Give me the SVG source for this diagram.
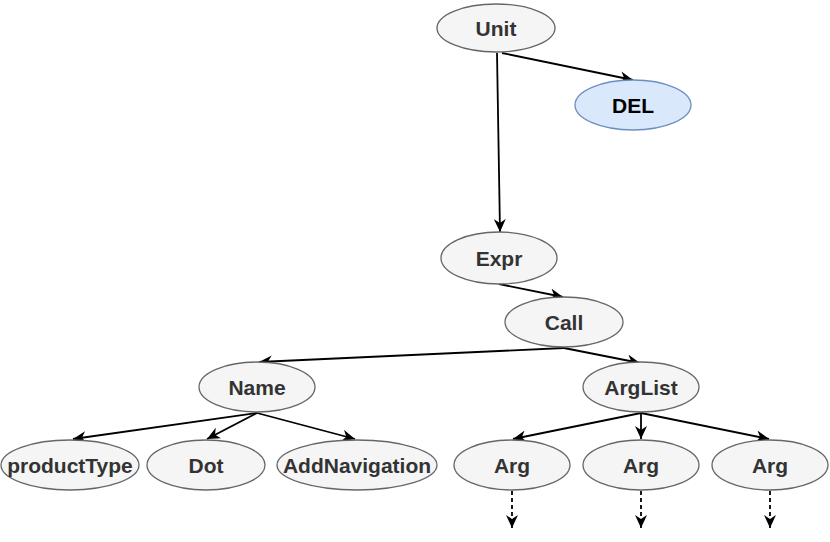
<svg xmlns="http://www.w3.org/2000/svg" width="830" height="542" viewBox="0 0 830 542">
<style>
.n ellipse{fill:#f5f5f5;stroke:#666666;stroke-width:1.3}
.n text{font-family:"Liberation Sans",Arial,sans-serif;font-weight:bold;font-size:21px;fill:#333333;text-anchor:middle}
#del ellipse{fill:#dae8fc;stroke:#6c8ebf}
#del text{fill:#000000}
.e line{stroke:#000000;stroke-width:1.8;fill:none}
.e .d{stroke-dasharray:4 3}
</style>
<defs>
<marker id="a" markerUnits="userSpaceOnUse" markerWidth="14" markerHeight="12" refX="13" refY="6" orient="auto">
<path d="M0,0 L13,6 L0,12 L4,6 Z" fill="#000000"/>
</marker>
</defs>
<g class="e" id="edges">
<line x1="502" y1="53" x2="633" y2="80" marker-end="url(#a)"/>
<line x1="497" y1="53" x2="500" y2="232" marker-end="url(#a)"/>
<line x1="499" y1="284" x2="563" y2="297" marker-end="url(#a)"/>
<line x1="564" y1="348" x2="259" y2="362" marker-end="url(#a)"/>
<line x1="564" y1="348" x2="640" y2="363" marker-end="url(#a)"/>
<line x1="257" y1="413" x2="73" y2="439" marker-end="url(#a)"/>
<line x1="257" y1="413" x2="207" y2="439" marker-end="url(#a)"/>
<line x1="257" y1="413" x2="355" y2="439" marker-end="url(#a)"/>
<line x1="641" y1="413" x2="513" y2="439" marker-end="url(#a)"/>
<line x1="641" y1="413" x2="641" y2="439" marker-end="url(#a)"/>
<line x1="641" y1="413" x2="769" y2="439" marker-end="url(#a)"/>
<line class="d" x1="512" y1="491" x2="512" y2="528" marker-end="url(#a)"/>
<line class="d" x1="641" y1="491" x2="641" y2="528" marker-end="url(#a)"/>
<line class="d" x1="770" y1="491" x2="770" y2="528" marker-end="url(#a)"/>
</g>
<g class="n" id="unit"><ellipse cx="496" cy="28" rx="59" ry="24"/><text x="496" y="35.5">Unit</text></g>
<g class="n" id="del"><ellipse cx="633" cy="105" rx="58" ry="25"/><text x="633" y="112.5">DEL</text></g>
<g class="n" id="expr"><ellipse cx="499" cy="258" rx="58" ry="26"/><text x="499" y="265.5">Expr</text></g>
<g class="n" id="call"><ellipse cx="564" cy="322" rx="59" ry="25"/><text x="564" y="329.5">Call</text></g>
<g class="n" id="name"><ellipse cx="257" cy="387" rx="58" ry="25"/><text x="257" y="394.5">Name</text></g>
<g class="n" id="arglist"><ellipse cx="641" cy="387" rx="58" ry="25"/><text x="641" y="394.5">ArgList</text></g>
<g class="n" id="productType"><ellipse cx="70" cy="465" rx="69" ry="25"/><text x="70" y="472.5">productType</text></g>
<g class="n" id="dot"><ellipse cx="206" cy="465" rx="59" ry="25"/><text x="206" y="472.5">Dot</text></g>
<g class="n" id="addNavigation"><ellipse cx="357" cy="465" rx="80" ry="25"/><text x="357" y="472.5">AddNavigation</text></g>
<g class="n" id="arg1"><ellipse cx="512" cy="465" rx="58" ry="25"/><text x="512" y="472.5">Arg</text></g>
<g class="n" id="arg2"><ellipse cx="641" cy="465" rx="58" ry="25"/><text x="641" y="472.5">Arg</text></g>
<g class="n" id="arg3"><ellipse cx="770" cy="465" rx="58" ry="25"/><text x="770" y="472.5">Arg</text></g>
</svg>
